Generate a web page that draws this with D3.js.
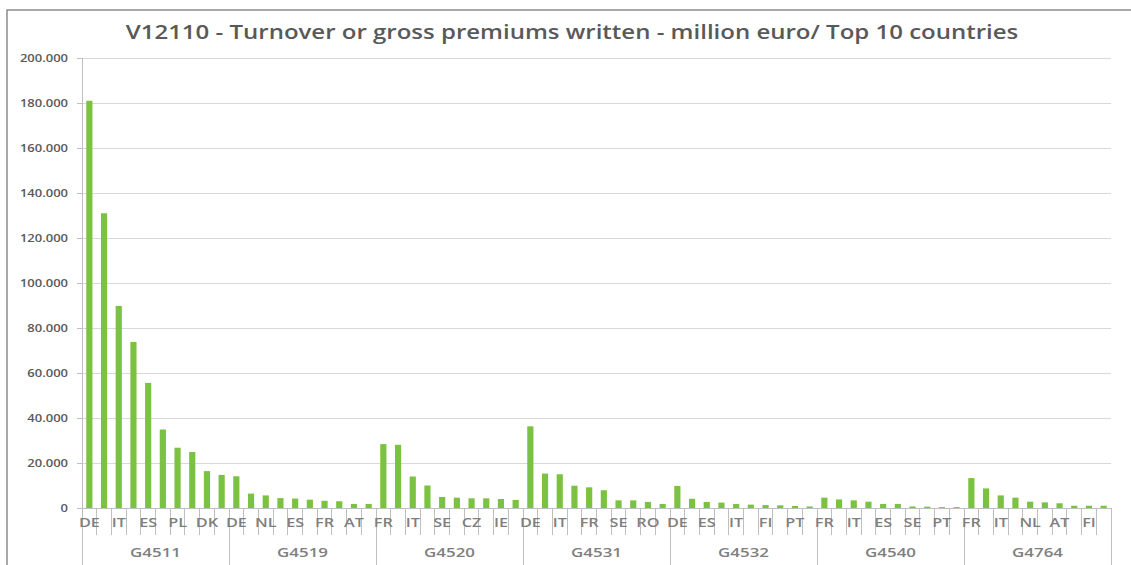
<!DOCTYPE html>
<html>
<head>
<meta charset="utf-8">
<style>
body{margin:0;background:#fff;font-family:"Open Sans",sans-serif;}
.grid line{stroke:#d9d9d9;stroke-width:1;shape-rendering:crispEdges;}
.grid path{display:none;}
.axisline{stroke:#bfbfbf;stroke-width:1;shape-rendering:crispEdges;}
.ylab{font-size:10px;fill:#595959;font-weight:600;}
.clab{font-size:12.5px;fill:#7f7f7f;font-weight:600;}
.glab{font-size:13px;fill:#7f7f7f;font-weight:600;}
.title{font-size:19px;fill:#595959;font-weight:600;}
</style>
</head>
<body>
<svg id="chart"></svg>
<script src="https://cdn.jsdelivr.net/npm/d3@7/dist/d3.min.js"></script>
<script>

// groups (NACE codes)
var groups = ["G4511", "G4519", "G4520", "G4531", "G4532", "G4540", "G4764"];

// country labels as shown on the axis (every second one is hidden in the original)
var countries = [
  ["DE", "", "IT", "", "ES", "", "PL", "", "DK", ""],
  ["DE", "", "NL", "", "ES", "", "FR", "", "AT", ""],
  ["FR", "", "IT", "", "SE", "", "CZ", "", "IE", ""],
  ["DE", "", "IT", "", "FR", "", "SE", "", "RO", ""],
  ["DE", "", "ES", "", "IT", "", "FI", "", "PT", ""],
  ["FR", "", "IT", "", "ES", "", "SE", "", "PT", ""],
  ["FR", "", "IT", "", "NL", "", "AT", "", "FI", ""]
];

// turnover, million euro
var g4511 = [181000, 131000, 89800, 73800, 55600, 34900, 26800, 24900, 16400, 14700];
var g4519 = [14100, 6400, 5600, 4400, 4200, 3700, 3200, 3000, 1800, 1800];
var g4520 = [28400, 28100, 14000, 10000, 4900, 4600, 4300, 4300, 4000, 3600];
var g4531 = [36300, 15300, 15000, 9900, 9200, 7900, 3400, 3400, 2700, 1800];
var g4532 = [9800, 4100, 2700, 2400, 1800, 1500, 1300, 1200, 900, 700];
var g4540 = [4600, 3800, 3400, 2800, 1800, 1800, 700, 600, 400, 400];
var g4764 = [13300, 8700, 5600, 4600, 2800, 2500, 2100, 1000, 1000, 1000];

var yTicks = [0, 20000, 40000, 60000, 80000, 100000, 120000, 140000, 160000, 180000, 200000];

var series = [g4511, g4519, g4520, g4531, g4532, g4540, g4764];

var W = 1131, H = 565;
var margin = {top: 58, left: 82, right: 20, bottom: 57};
var plotW = 1111 - margin.left;
var plotH = 508 - margin.top;
var sx = 1.3;   // horizontal stretch of the source image text

var data = [];
groups.forEach(function(g, gi){
  series[gi].forEach(function(v, ci){
    data.push({key: g + "_" + ci, group: g, gi: gi, ci: ci, country: countries[gi][ci], value: v});
  });
});

var svg = d3.select("#chart").attr("width", W).attr("height", H);

// outer frame of the chart
svg.append("path")
  .attr("d", "M7," + (H + 5) + " L7,10 L" + (W + 5) + ",10")
  .attr("fill", "none")
  .attr("stroke", "#8c8c8c")
  .attr("stroke-width", 1.5);

var g = svg.append("g").attr("transform", "translate(" + margin.left + "," + margin.top + ")");

var x = d3.scaleBand().domain(data.map(function(d){ return d.key; })).range([0, plotW])
  .paddingInner(0.58).paddingOuter(0.29);
var y = d3.scaleLinear().domain([0, 200000]).range([plotH, 0]);

var step = x.step();

// gridlines
g.append("g")
  .attr("class", "grid")
  .call(d3.axisLeft(y).tickValues(yTicks).tickSize(-plotW).tickFormat(""));

var fmt = d3.formatLocale({decimal: ",", thousands: ".", grouping: [3], currency: ["", ""]}).format(",d");

// y ticks + labels
yTicks.forEach(function(t){
  g.append("line").attr("class", "axisline")
    .attr("x1", -5).attr("x2", 0).attr("y1", y(t)).attr("y2", y(t));
  g.append("text").attr("class", "ylab")
    .attr("text-anchor", "end")
    .attr("transform", "translate(-14," + (y(t) + 3.5) + ") scale(" + sx + ",1)")
    .text(fmt(t));
});

// bars
g.selectAll(".bar")
  .data(data)
  .enter()
  .append("rect")
  .attr("class", "bar")
  .attr("x", function(d){ return x(d.key); })
  .attr("width", x.bandwidth())
  .attr("y", function(d){ return y(d.value); })
  .attr("height", function(d){ return plotH - y(d.value); })
  .attr("fill", "#7cc242");

// axes lines
g.append("line").attr("class", "axisline")
  .attr("x1", 0).attr("x2", 0).attr("y1", 0).attr("y2", H - margin.top);
g.append("line").attr("class", "axisline")
  .attr("x1", 0).attr("x2", plotW).attr("y1", plotH).attr("y2", plotH);

// category boundaries
data.forEach(function(d, i){
  var bx = (i + 1) * step;
  var last = d.ci === 9;
  g.append("line").attr("class", "axisline")
    .attr("x1", bx).attr("x2", bx)
    .attr("y1", plotH).attr("y2", last ? H - margin.top : plotH + 27);
});

// country labels
g.selectAll(".clab")
  .data(data.filter(function(d){ return d.country !== ""; }))
  .enter()
  .append("text")
  .attr("class", "clab")
  .attr("text-anchor", "middle")
  .attr("transform", function(d){
    return "translate(" + (x(d.key) + x.bandwidth() / 2) + "," + (plotH + 19) + ") scale(" + sx + ",1)";
  })
  .text(function(d){ return d.country; });

// group labels
groups.forEach(function(gr, gi){
  g.append("text").attr("class", "glab")
    .attr("text-anchor", "middle")
    .attr("transform", "translate(" + ((gi + 0.5) * 10 * step) + "," + (plotH + 49) + ") scale(" + sx + ",1)")
    .text(gr);
});

// title
var title = svg.append("text").attr("class", "title")
  .attr("text-anchor", "middle")
  .text("V12110 - Turnover or gross premiums written - million euro/ Top 10 countries");
var tl = title.node().getComputedTextLength();
title.attr("transform", "translate(572,39) scale(" + (893 / tl) + ",1)");

</script>
</body>
</html>
